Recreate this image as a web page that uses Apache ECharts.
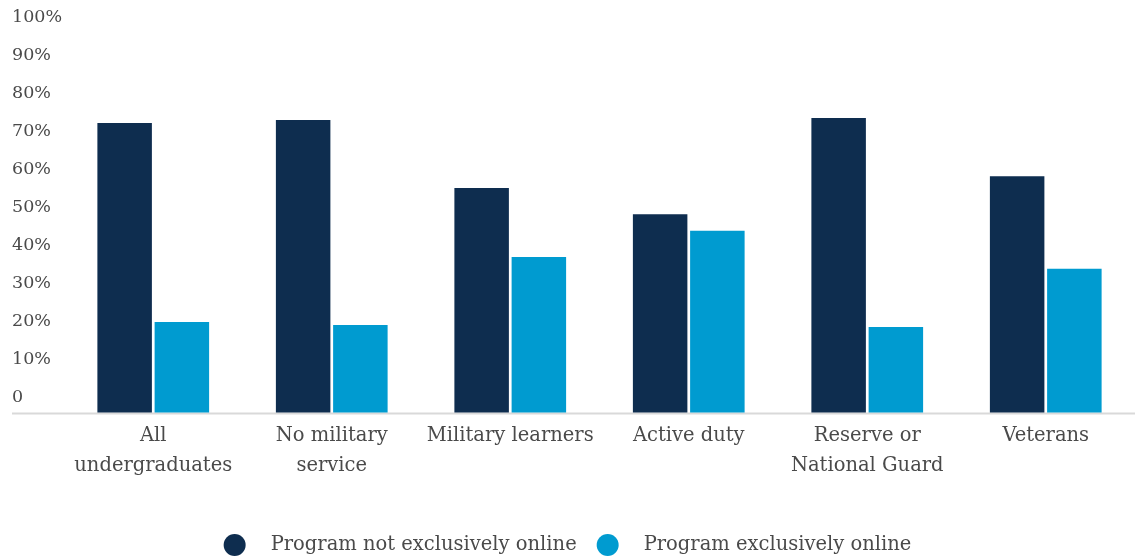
<!DOCTYPE html>
<html>
<head>
<meta charset="utf-8">
<script src="https://cdn.jsdelivr.net/npm/echarts@6/dist/echarts.min.js"></script>
<style>
html,body{margin:0;padding:0;background:#fff;}
#chart{width:1135px;height:557px;}
</style>
</head>
<body>
<div id="chart"></div>
<script>
const categories = ["All\nundergraduates", "No military\nservice", "Military learners", "Active duty", "Reserve or\nNational Guard", "Veterans"];
const notOnline = [76.2, 77.0, 59.1, 52.2, 77.5, 62.2];
const online = [23.8, 23.0, 40.9, 47.8, 22.5, 37.8];
const seriesNames = ["Program not exclusively online", "Program exclusively online"];
const yTicks = [0, 10, 20, 30, 40, 50, 60, 70, 80, 90, 100];

const FONT = '"DejaVu Serif", serif';
const chart = echarts.init(document.getElementById('chart'));
chart.setOption({
  animation: false,
  grid: { left: 64, right: -6, top: 32.5, bottom: 144.5 },
  graphic: [{
    type: 'line',
    shape: { x1: 12, y1: 413.5, x2: 1135, y2: 413.5 },
    style: { stroke: '#d9d9d9', lineWidth: 2 }
  }],
  legend: {
    top: 529,
    left: 'center',
    itemWidth: 22, itemHeight: 22, itemGap: 20,
    icon: 'circle',
    data: seriesNames,
    textStyle: { fontFamily: FONT, fontSize: 19.5, color: '#4a4a4a', padding: [0, 0, 0, 20] }
  },
  xAxis: {
    type: 'category',
    data: categories,
    axisLine: { show: false },
    axisTick: { show: false },
    axisLabel: { fontFamily: FONT, fontSize: 19.5, color: '#4a4a4a', lineHeight: 30, margin: 8, interval: 0 }
  },
  yAxis: {
    type: 'value',
    min: 0, max: 100, interval: 10,
    splitLine: { show: false },
    axisLine: { show: false },
    axisTick: { show: false },
    axisLabel: {
      fontFamily: FONT, fontSize: 17.5, color: '#4a4a4a',
      align: 'left', margin: 52, verticalAlign: 'bottom', lineHeight: 30,
      showMinLabel: true, showMaxLabel: true, hideOverlap: false,
      formatter: v => yTicks.includes(v) ? (v === 0 ? '0' : v + '%') : ''
    }
  },
  series: [
    { name: seriesNames[0], type: 'bar', data: notOnline, barWidth: 54.5, barGap: '5%', itemStyle: { color: '#0e2d4f' } },
    { name: seriesNames[1], type: 'bar', data: online, barWidth: 54.5, barGap: '5%', itemStyle: { color: '#009bd0' } }
  ]
});
</script>
</body>
</html>
